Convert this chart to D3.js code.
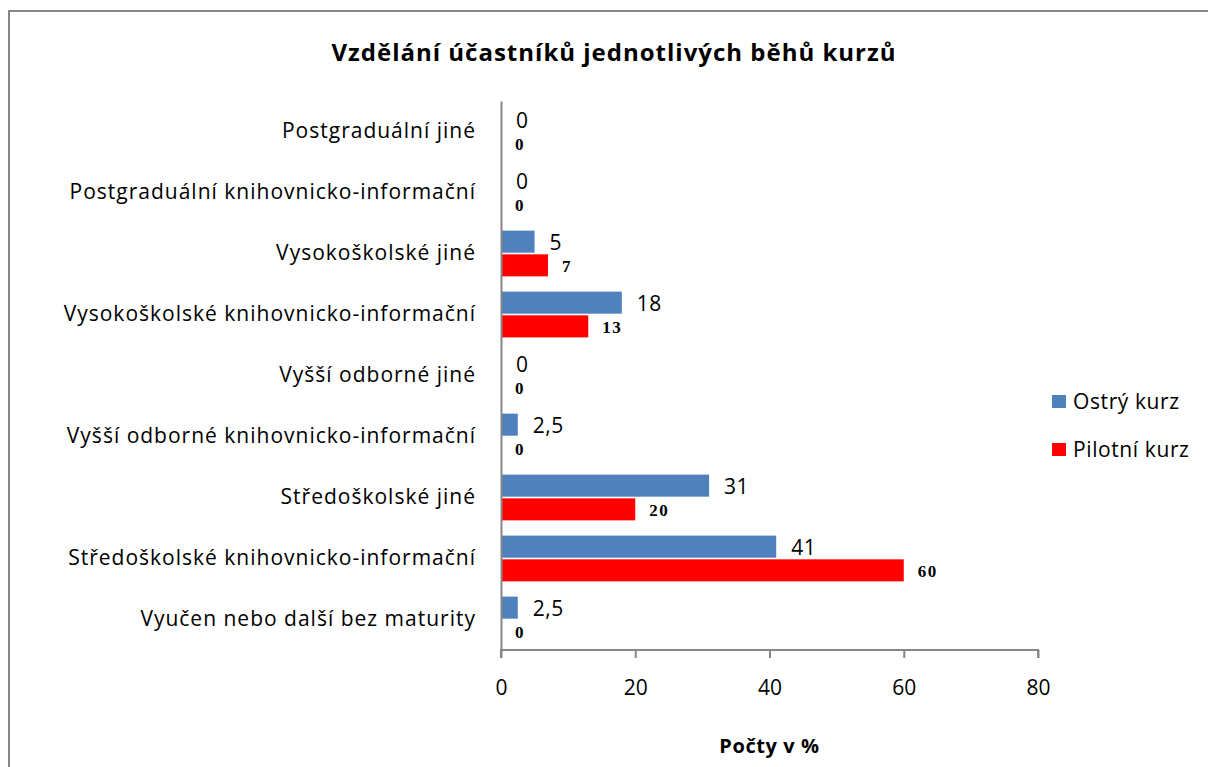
<!DOCTYPE html>
<html>
<head>
<meta charset="utf-8">
<script src="https://cdn.jsdelivr.net/npm/d3@7"></script>
<style>
  body { margin: 0; background: #fff; }
  text { font-family: "Open Sans", Lato, sans-serif; }
</style>
</head>
<body>
<div id="chart"></div>
<script>
const width = 1208;
const height = 767;

const categories = [
  "Postgraduální jiné",
  "Postgraduální knihovnicko-informační",
  "Vysokoškolské jiné",
  "Vysokoškolské knihovnicko-informační",
  "Vyšší odborné jiné",
  "Vyšší odborné knihovnicko-informační",
  "Středoškolské jiné",
  "Středoškolské knihovnicko-informační",
  "Vyučen nebo další bez maturity"
];
const ostryKurz = [0, 0, 5, 18, 0, 2.5, 31, 41, 2.5];
const pilotniKurz = [0, 0, 7, 13, 0, 0, 20, 60, 0];
const seriesNames = ["Ostrý kurz", "Pilotní kurz"];
const xTicks = [0, 20, 40, 60, 80];

const colors = { "Ostrý kurz": "#4F81BD", "Pilotní kurz": "#FF0000" };

const margin = { top: 101, right: 170, bottom: 117, left: 501 };

const svg = d3.select("#chart")
  .append("svg")
  .attr("width", width)
  .attr("height", height);

// outer frame (only top and left visible)
svg.append("path")
  .attr("d", `M9,${height} V11 H${width}`)
  .attr("fill", "none")
  .attr("stroke", "#868686")
  .attr("stroke-width", 2);

svg.append("text")
  .attr("x", 614)
  .attr("y", 61)
  .attr("text-anchor", "middle")
  .style("font-size", "24px")
  .style("letter-spacing", "1px")
  .style("font-weight", "bold")
  .text("Vzdělání účastníků jednotlivých běhů kurzů");

const x = d3.scaleLinear().domain([0, 80]).range([margin.left, 1038]);
const y = d3.scaleBand()
  .domain(categories)
  .range([margin.top, height - margin.bottom])
  .paddingInner(0.25)
  .paddingOuter(0.125);
const ySub = d3.scaleBand()
  .domain(seriesNames)
  .range([0, y.bandwidth()])
  .paddingInner(0.07);

const rows = categories.map((c, i) => ({
  category: c,
  values: [
    { series: "Ostrý kurz", value: ostryKurz[i] },
    { series: "Pilotní kurz", value: pilotniKurz[i] }
  ]
}));

// bars
const group = svg.selectAll(".row")
  .data(rows)
  .enter()
  .append("g")
  .attr("class", "row")
  .attr("transform", d => `translate(0,${y(d.category)})`);

group.selectAll("rect")
  .data(d => d.values)
  .enter()
  .append("rect")
  .attr("x", x(0))
  .attr("y", d => ySub(d.series))
  .attr("width", d => x(d.value) - x(0))
  .attr("height", ySub.bandwidth())
  .attr("fill", d => colors[d.series]);

// value labels
const fmt = v => String(v).replace(".", ",");
group.selectAll("text.val")
  .data(d => d.values)
  .enter()
  .append("text")
  .attr("class", "val")
  .attr("x", d => x(d.value) + (d.series === "Ostrý kurz" ? 15 : 14))
  .attr("y", d => ySub(d.series) + ySub.bandwidth() / 2 + 1)
  .attr("dy", "0.35em")
  .style("font-size", d => d.series === "Ostrý kurz" ? "21px" : "17px")
  .style("letter-spacing", d => d.series === "Ostrý kurz" ? "0.5px" : "1.5px")
  .style("font-weight", d => d.series === "Ostrý kurz" ? "normal" : "bold")
  .style("font-family", d => d.series === "Ostrý kurz" ? null : "'Liberation Serif', serif")
  .text(d => fmt(d.value));

// x axis
const xAxis = svg.append("g")
  .attr("transform", `translate(0,${height - margin.bottom})`)
  .call(d3.axisBottom(x).tickValues(xTicks).tickSize(8).tickPadding(22));
xAxis.selectAll("path, line").attr("stroke", "#868686").attr("stroke-width", 2);
xAxis.select(".domain").attr("d", `M${x(0)},8V0H${x(80)}V8`);
xAxis.selectAll("text").style("font-size", "21px").style("font-family", "'Open Sans', sans-serif").attr("fill", "#000");

// y axis
const yAxis = svg.append("g")
  .attr("transform", `translate(${margin.left},0)`)
  .call(d3.axisLeft(y).tickSize(0).tickPadding(25));
yAxis.select(".domain").attr("stroke", "#868686").attr("stroke-width", 2);
yAxis.selectAll("text")
  .style("font-size", "21px")
  .style("letter-spacing", "1px")
  .style("font-family", "'Open Sans', sans-serif")
  .attr("fill", "#000");

svg.append("text")
  .attr("x", (x(0) + x(80)) / 2)
  .attr("y", 753)
  .attr("text-anchor", "middle")
  .style("font-size", "20px")
  .style("letter-spacing", "0.6px")
  .style("font-weight", "bold")
  .text("Počty v %");

// legend
const legend = svg.selectAll(".legend-item")
  .data(seriesNames)
  .enter()
  .append("g")
  .attr("class", "legend-item")
  .attr("transform", (d, i) => `translate(1052,${395 + i * 48})`);

legend.append("rect")
  .attr("width", 14)
  .attr("height", 13)
  .attr("fill", d => colors[d]);

legend.append("text")
  .attr("x", 21)
  .attr("y", 7)
  .attr("dy", "0.35em")
  .style("font-size", "21px")
  .style("letter-spacing", "0.6px")
  .text(d => d);
</script>
</body>
</html>
